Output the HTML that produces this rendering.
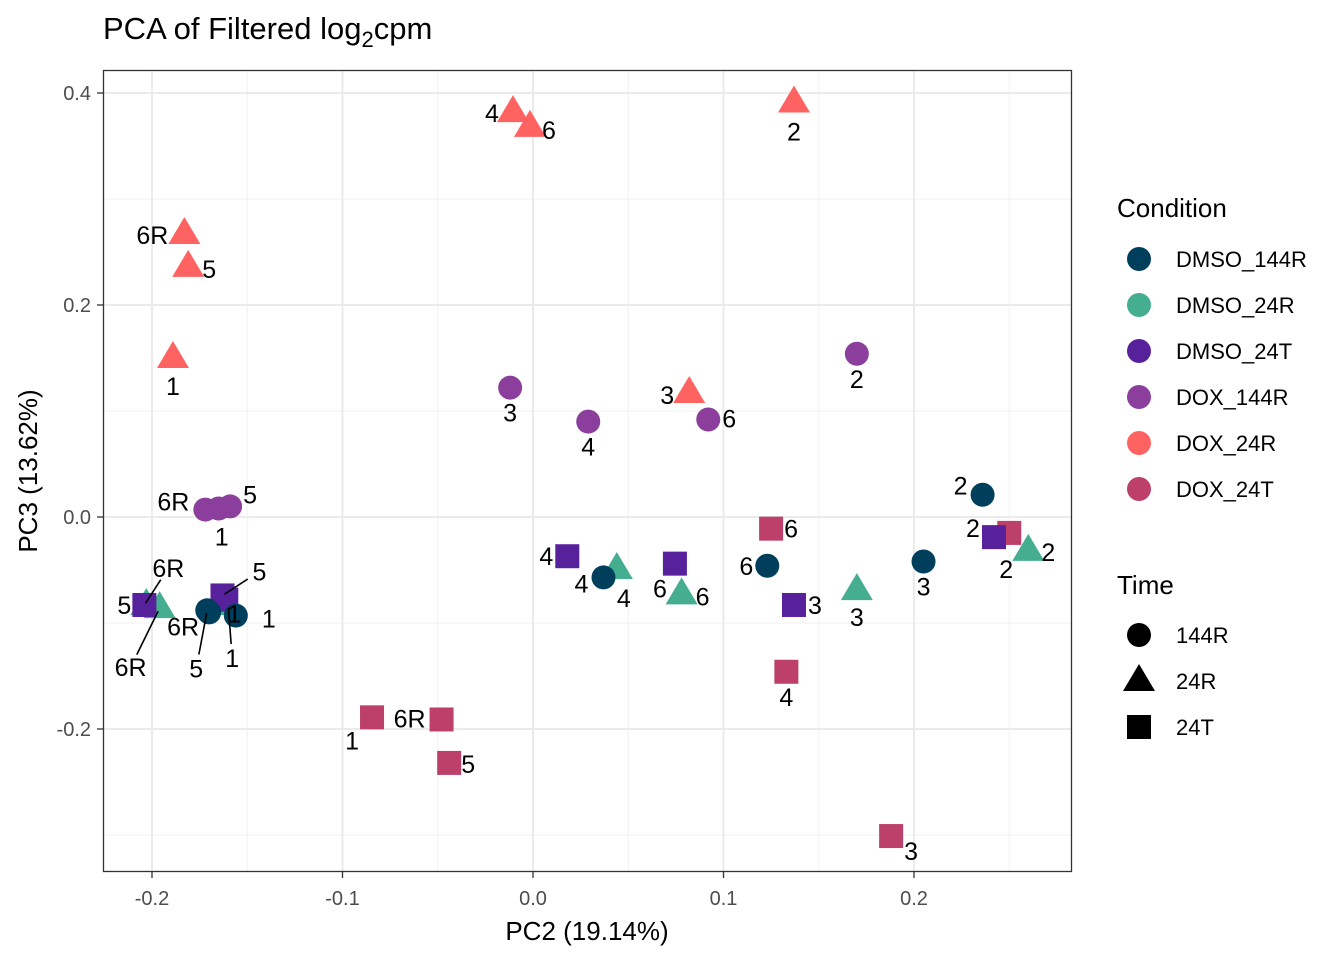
<!DOCTYPE html>
<html><head><meta charset="utf-8"><style>
body{margin:0;background:#fff;}
svg{display:block;font-family:"Liberation Sans",Arial,sans-serif;}
</style></head><body>
<svg id="chart" width="1344" height="960" viewBox="0 0 1344 960">
<text x="103" y="39" font-size="31" fill="#000">PCA of Filtered log<tspan font-size="22" dy="8">2</tspan><tspan dy="-8">cpm</tspan></text>
<g id="grid"></g>
<g id="marks"></g>
<rect x="103.5" y="70.5" width="968" height="801" fill="none" stroke="#333" stroke-width="1.3"/>
<g id="axes"></g>
<text x="587" y="940" font-size="26" text-anchor="middle">PC2 (19.14%)</text>
<text transform="translate(37,471) rotate(-90)" font-size="26" text-anchor="middle">PC3 (13.62%)</text>
<g id="legend"></g>
</svg>
<script>
const conditions=["DMSO_144R","DMSO_24R","DMSO_24T","DOX_144R","DOX_24R","DOX_24T"];
const colors=["#003f5c","#45ae91","#58219c","#8b3e9b","#ff6361","#bc4069"];
const times=["144R","24R","24T"];
const xTicks=[-0.2,-0.1,0.0,0.1,0.2];
const yTicks=[-0.2,0.0,0.2,0.4];
const xMinor=[-0.15,-0.05,0.05,0.15,0.25];
const yMinor=[-0.3,-0.1,0.1,0.3];
const ptCond=[4,4,4,4,4,4,4, 3,3,3,3,3,3,3, 5,5,5,5,5,5,5, 2,2,2,2,2,2,2, 0,0,0,0,0,0,0, 1,1,1,1,1,1,1];
const ptLabel=["4","6","2","6R","5","1","3", "3","4","6","2","6R","1","5", "6","4","3","1","6R","5","2", "4","6","3","2","6R","5","1", "2","3","6","4","5","1","6R", "4","6","3","2","5","6R","1"];
const pc2=[-0.0105,-0.0016,0.137,-0.183,-0.181,-0.189,0.082, -0.012,0.029,0.092,0.170,-0.172,-0.165,-0.159, 0.125,0.133,0.188,-0.0845,-0.048,-0.044,0.250, 0.018,0.0745,0.137,0.242,-0.204,-0.163,-0.161, 0.236,0.205,0.123,0.037,-0.171,-0.156,-0.170, 0.044,0.078,0.170,0.260,-0.203,-0.196,-0.160];
const pc3=[0.382,0.368,0.391,0.267,0.236,0.150,0.117, 0.122,0.090,0.092,0.154,0.007,0.008,0.010, -0.011,-0.146,-0.301,-0.189,-0.191,-0.232,-0.015, -0.037,-0.044,-0.083,-0.019,-0.083,-0.074,-0.078, 0.021,-0.042,-0.046,-0.057,-0.088,-0.093,-0.090, -0.049,-0.073,-0.069,-0.032,-0.083,-0.086,-0.083];
const offX=[-21,19,0,-32,21,0,-22, 0,0,21,0,-32,3,20, 20,0,20,-20,-32,19,-3, -21,-15,21,-21,24,37,8, -22,0,-21,-22,-11,33,-26, 7,21,0,20,-22,-29,4];
const offY=[1,3,29,1,2,28,2, 25,25,-1,25,-8,28,-12, 0,25,15,23,-1,1,36, 0,25,0,-9,-37,-24,14, -9,25,0,6,58,3,14, 29,2,27,1,0,59,53];
const leader=[0,0,0,0,0,0,0, 0,0,0,0,0,0,0, 0,0,0,0,0,0,0, 0,0,0,0,1,1,0, 0,0,0,0,1,0,0, 0,0,0,0,0,1,1];
const drawOrder=[5,4,3,1,2,0];

const NS="http://www.w3.org/2000/svg";
const X0=103,X1=1072,Y0=70,Y1=872;
const xs=v=>533+v*1905;
const ys=v=>517-v*1060;
function mk(tag,attrs,parent){const e=document.createElementNS(NS,tag);for(const k in attrs)e.setAttribute(k,attrs[k]);parent.appendChild(e);return e;}
const grid=document.getElementById('grid'),axes=document.getElementById('axes'),marks=document.getElementById('marks'),legend=document.getElementById('legend');
mk('rect',{x:X0,y:Y0,width:X1-X0,height:Y1-Y0,fill:'#fff'},grid);
xMinor.forEach(v=>{const l=mk('line',{x1:xs(v),x2:xs(v),y1:Y0,y2:Y1,stroke:'#f2f2f2','stroke-width':1},grid);

});
yMinor.forEach(v=>{const l=mk('line',{x1:X0,x2:X1,y1:ys(v),y2:ys(v),stroke:'#f2f2f2','stroke-width':1},grid);

});
xTicks.forEach(v=>{const l=mk('line',{x1:xs(v),x2:xs(v),y1:Y0,y2:Y1,stroke:'#ebebeb','stroke-width':2},grid);


const t=mk('line',{x1:xs(v),x2:xs(v),y1:Y1,y2:Y1+6,stroke:'#333','stroke-width':1.3},axes);


const tx=mk('text',{x:xs(v),y:Y1+33,'font-size':20,'text-anchor':'middle',fill:'#4d4d4d'},axes);tx.textContent=v.toFixed(1);

});
yTicks.forEach(v=>{const l=mk('line',{x1:X0,x2:X1,y1:ys(v),y2:ys(v),stroke:'#ebebeb','stroke-width':2},grid);


const t=mk('line',{x1:X0-6,x2:X0,y1:ys(v),y2:ys(v),stroke:'#333','stroke-width':1.3},axes);


const tx=mk('text',{x:X0-12,y:ys(v)+7,'font-size':20,'text-anchor':'end',fill:'#4d4d4d'},axes);tx.textContent=v.toFixed(1);

});
function shape(t,cx,cy,col,parent){
 if(t===0) return mk('circle',{cx:cx,cy:cy,r:12,fill:col},parent);
 if(t===1) return mk('polygon',{points:`${cx},${cy-17} ${cx+16},${cy+10} ${cx-16},${cy+10}`,fill:col},parent);
 return mk('rect',{x:cx-12,y:cy-12,width:24,height:24,fill:col},parent);
}
const ptTime=ptCond.map(c=>c===0||c===3?0:(c===1||c===4?1:2));
drawOrder.forEach(c=>{
 for(let i=0;i<pc2.length;i++){
  if(ptCond[i]!==c) continue;
  const s=shape(ptTime[i],xs(pc2[i]),ys(pc3[i]),colors[ptCond[i]],marks);
  
  
 }
});
for(let i=0;i<pc2.length;i++){
 const cx=xs(pc2[i]),cy=ys(pc3[i]),lx=cx+offX[i],ly=cy+offY[i];
 if(leader[i]){const dx=lx-cx,dy=ly-cy,d=Math.hypot(dx,dy);
  const ln=mk('line',{x1:cx+dx*0.05,y1:cy+dy*0.05,x2:cx+dx*(1-14/d),y2:cy+dy*(1-14/d),stroke:'#000','stroke-width':1.6},marks);
  
  }
 const t=mk('text',{x:lx,y:ly+9,'font-size':25,'text-anchor':'middle',fill:'#000'},marks);t.textContent=ptLabel[i];
 
 
}
const lt=mk('text',{x:1117,y:217,'font-size':26},legend);lt.textContent='Condition';


conditions.forEach((c,i)=>{const y=259+i*46;
 const s=mk('circle',{cx:1139,cy:y,r:12,fill:colors[i]},legend);
 
 
 const t=mk('text',{x:1176,y:y+8,'font-size':22},legend);t.textContent=c;
 
 });
const tt=mk('text',{x:1117,y:594,'font-size':26},legend);tt.textContent='Time';


times.forEach((c,i)=>{const y=635+i*46;
 const s=shape(i,1139,y,'#000',legend);
 
 
 const t=mk('text',{x:1176,y:y+8,'font-size':22},legend);t.textContent=c;
 
 });
</script>
</body></html>
